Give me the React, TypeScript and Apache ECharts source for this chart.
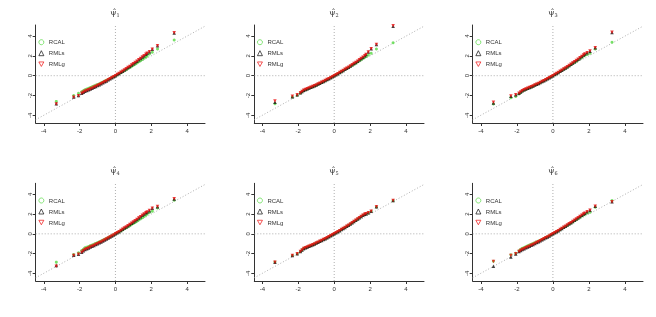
import React, { useEffect, useRef } from "react";
import * as echarts from "echarts";

// shared abscissa (sorted reference quantiles)
const xs = [-3.30, -2.33, -2.06, -1.88, -1.79,
  -1.70, -1.60, -1.50, -1.40, -1.30, -1.20, -1.10, -1.00, -0.90, -0.80, -0.70, -0.60, -0.50, -0.40, -0.30, -0.20, -0.10,
  0.00, 0.10, 0.20, 0.30, 0.40, 0.50, 0.60, 0.70, 0.80, 0.90, 1.00, 1.10, 1.20, 1.30, 1.40, 1.50, 1.60,
  1.70, 1.77, 1.90, 2.06, 2.35, 3.28];

// panel 1
const rcal1 = [-2.60, -2.00, -1.78, -1.62, -1.52,
  -1.42, -1.35, -1.28, -1.20, -1.13, -1.05, -0.97, -0.89, -0.81, -0.73, -0.64, -0.55, -0.47, -0.38, -0.28, -0.19, -0.10,
  0.00, 0.10, 0.20, 0.30, 0.40, 0.51, 0.61, 0.72, 0.83, 0.94, 1.05, 1.16, 1.28, 1.40, 1.52, 1.64, 1.76,
  1.88, 1.99, 2.19, 2.36, 2.69, 3.60];
const rmls1 = [-2.84, -2.16, -2.01, -1.78, -1.68,
  -1.58, -1.50, -1.43, -1.34, -1.26, -1.18, -1.09, -1.00, -0.91, -0.82, -0.72, -0.62, -0.53, -0.42, -0.32, -0.22, -0.11,
  0.00, 0.11, 0.22, 0.34, 0.46, 0.58, 0.70, 0.82, 0.94, 1.07, 1.20, 1.33, 1.46, 1.60, 1.74, 1.88, 2.02,
  2.16, 2.26, 2.42, 2.66, 3.02, 4.30];
const rmlg1 = [-2.87, -2.17, -2.02, -1.78, -1.68,
  -1.58, -1.50, -1.43, -1.34, -1.26, -1.18, -1.09, -1.00, -0.91, -0.82, -0.72, -0.62, -0.53, -0.42, -0.32, -0.22, -0.11,
  0.00, 0.11, 0.22, 0.34, 0.46, 0.58, 0.70, 0.82, 0.94, 1.07, 1.20, 1.33, 1.46, 1.60, 1.74, 1.88, 2.02,
  2.16, 2.26, 2.42, 2.66, 3.03, 4.34];

// panel 2
const rcal2 = [-2.83, -2.15, -1.97, -1.75, -1.62,
  -1.50, -1.42, -1.35, -1.27, -1.19, -1.11, -1.03, -0.95, -0.86, -0.78, -0.69, -0.60, -0.50, -0.40, -0.31, -0.21, -0.11,
  0.00, 0.10, 0.20, 0.30, 0.41, 0.51, 0.62, 0.72, 0.83, 0.94, 1.05, 1.16, 1.27, 1.38, 1.50, 1.61, 1.73,
  1.86, 1.95, 2.08, 2.26, 2.69, 3.33];
const rmls2 = [-2.68, -2.12, -1.92, -1.72, -1.60,
  -1.48, -1.40, -1.33, -1.25, -1.17, -1.09, -1.01, -0.93, -0.84, -0.76, -0.67, -0.58, -0.49, -0.39, -0.30, -0.20, -0.10,
  0.00, 0.10, 0.20, 0.31, 0.42, 0.53, 0.64, 0.75, 0.86, 0.98, 1.10, 1.22, 1.34, 1.47, 1.60, 1.73, 1.86,
  2.02, 2.15, 2.38, 2.71, 3.14, 5.00];
const rmlg2 = [-2.56, -2.09, -1.92, -1.72, -1.60,
  -1.48, -1.40, -1.33, -1.25, -1.17, -1.09, -1.01, -0.93, -0.84, -0.76, -0.67, -0.58, -0.49, -0.39, -0.30, -0.20, -0.10,
  0.00, 0.10, 0.20, 0.31, 0.42, 0.53, 0.64, 0.75, 0.86, 0.98, 1.10, 1.22, 1.34, 1.47, 1.60, 1.73, 1.86,
  2.02, 2.15, 2.39, 2.73, 3.16, 5.05];

// panel 3
const rcal3 = [-2.86, -2.22, -2.09, -1.84, -1.70,
  -1.55, -1.46, -1.38, -1.29, -1.21, -1.13, -1.05, -0.96, -0.87, -0.79, -0.70, -0.60, -0.50, -0.40, -0.31, -0.21, -0.10,
  0.00, 0.10, 0.20, 0.31, 0.42, 0.53, 0.64, 0.75, 0.86, 0.98, 1.10, 1.22, 1.34, 1.46, 1.59, 1.72, 1.85,
  1.98, 2.06, 2.15, 2.26, 2.69, 3.37];
const rmls3 = [-2.75, -2.07, -1.93, -1.78, -1.66,
  -1.52, -1.43, -1.35, -1.27, -1.19, -1.12, -1.03, -0.95, -0.86, -0.78, -0.69, -0.59, -0.50, -0.40, -0.31, -0.21, -0.10,
  0.00, 0.11, 0.21, 0.32, 0.44, 0.55, 0.67, 0.78, 0.90, 1.03, 1.15, 1.28, 1.40, 1.53, 1.67, 1.80, 1.94,
  2.08, 2.19, 2.31, 2.48, 2.82, 4.35];
const rmlg3 = [-2.69, -2.05, -1.92, -1.78, -1.66,
  -1.52, -1.43, -1.35, -1.27, -1.19, -1.12, -1.03, -0.95, -0.86, -0.78, -0.69, -0.59, -0.50, -0.40, -0.31, -0.21, -0.10,
  0.00, 0.11, 0.21, 0.32, 0.44, 0.55, 0.67, 0.78, 0.90, 1.03, 1.15, 1.28, 1.40, 1.53, 1.67, 1.80, 1.94,
  2.08, 2.19, 2.32, 2.49, 2.83, 4.38];

// panel 4
const rcal4 = [-2.87, -2.10, -1.92, -1.70, -1.56,
  -1.42, -1.35, -1.28, -1.20, -1.13, -1.05, -0.97, -0.89, -0.81, -0.73, -0.64, -0.55, -0.47, -0.38, -0.28, -0.19, -0.10,
  0.00, 0.10, 0.20, 0.30, 0.40, 0.51, 0.61, 0.72, 0.83, 0.94, 1.05, 1.16, 1.28, 1.40, 1.52, 1.64, 1.76,
  1.90, 2.02, 2.16, 2.30, 2.62, 3.41];
const rmls4 = [-3.22, -2.18, -2.07, -1.86, -1.72,
  -1.58, -1.50, -1.43, -1.34, -1.26, -1.18, -1.09, -1.00, -0.91, -0.82, -0.72, -0.62, -0.53, -0.42, -0.32, -0.22, -0.11,
  0.00, 0.11, 0.22, 0.34, 0.46, 0.58, 0.70, 0.82, 0.94, 1.07, 1.20, 1.33, 1.46, 1.60, 1.74, 1.88, 2.02,
  2.14, 2.22, 2.35, 2.58, 2.75, 3.53];
const rmlg4 = [-3.28, -2.20, -2.08, -1.86, -1.72,
  -1.58, -1.50, -1.43, -1.34, -1.26, -1.18, -1.09, -1.00, -0.91, -0.82, -0.72, -0.62, -0.53, -0.42, -0.32, -0.22, -0.11,
  0.00, 0.11, 0.22, 0.34, 0.46, 0.58, 0.70, 0.82, 0.94, 1.07, 1.20, 1.33, 1.46, 1.60, 1.74, 1.88, 2.02,
  2.14, 2.22, 2.36, 2.60, 2.76, 3.55];

// panel 5
const rcal5 = [-2.85, -2.19, -2.02, -1.78, -1.63,
  -1.47, -1.40, -1.33, -1.25, -1.18, -1.10, -1.02, -0.94, -0.85, -0.76, -0.68, -0.58, -0.49, -0.40, -0.30, -0.20, -0.10,
  0.00, 0.10, 0.21, 0.32, 0.43, 0.54, 0.65, 0.77, 0.88, 1.00, 1.12, 1.24, 1.36, 1.49, 1.62, 1.75, 1.88,
  1.97, 2.02, 2.12, 2.29, 2.72, 3.36];
const rmls5 = [-2.87, -2.20, -2.03, -1.79, -1.64,
  -1.48, -1.41, -1.33, -1.26, -1.18, -1.10, -1.02, -0.94, -0.85, -0.76, -0.68, -0.58, -0.49, -0.40, -0.30, -0.20, -0.10,
  0.00, 0.10, 0.21, 0.32, 0.43, 0.54, 0.65, 0.77, 0.88, 1.00, 1.12, 1.25, 1.37, 1.50, 1.63, 1.76, 1.89,
  1.98, 2.03, 2.13, 2.30, 2.74, 3.38];
const rmlg5 = [-2.87, -2.20, -2.03, -1.79, -1.64,
  -1.48, -1.41, -1.33, -1.26, -1.18, -1.10, -1.02, -0.94, -0.85, -0.76, -0.68, -0.58, -0.49, -0.40, -0.30, -0.20, -0.10,
  0.00, 0.10, 0.21, 0.32, 0.43, 0.54, 0.65, 0.77, 0.88, 1.00, 1.12, 1.25, 1.37, 1.50, 1.63, 1.76, 1.89,
  1.98, 2.03, 2.13, 2.30, 2.74, 3.38];

// panel 6
const rcal6 = [-2.78, -2.13, -1.98, -1.72, -1.58,
  -1.46, -1.38, -1.30, -1.22, -1.14, -1.06, -0.98, -0.90, -0.82, -0.74, -0.65, -0.57, -0.48, -0.38, -0.29, -0.19, -0.09,
  0.01, 0.11, 0.21, 0.31, 0.42, 0.53, 0.64, 0.75, 0.86, 0.97, 1.09, 1.20, 1.32, 1.44, 1.56, 1.68, 1.80,
  1.92, 1.99, 2.10, 2.20, 2.70, 3.38];
const rmls6 = [-3.28, -2.36, -2.05, -1.80, -1.68,
  -1.58, -1.50, -1.42, -1.33, -1.25, -1.16, -1.07, -0.98, -0.89, -0.80, -0.70, -0.61, -0.51, -0.41, -0.31, -0.21, -0.10,
  0.00, 0.11, 0.21, 0.32, 0.43, 0.55, 0.66, 0.78, 0.89, 1.01, 1.13, 1.25, 1.37, 1.50, 1.62, 1.75, 1.88,
  2.01, 2.08, 2.23, 2.40, 2.80, 3.24];
const rmlg6 = [-2.80, -2.20, -2.03, -1.79, -1.68,
  -1.58, -1.50, -1.42, -1.33, -1.25, -1.16, -1.07, -0.98, -0.89, -0.80, -0.70, -0.61, -0.51, -0.41, -0.31, -0.21, -0.10,
  0.00, 0.11, 0.21, 0.32, 0.43, 0.55, 0.66, 0.78, 0.89, 1.01, 1.13, 1.25, 1.37, 1.50, 1.62, 1.75, 1.88,
  2.01, 2.08, 2.23, 2.40, 2.80, 3.24];

const panelSubs = ["1", "2", "3", "4", "5", "6"];
const seriesNames = ["RCAL", "RMLs", "RMLg"];
const xTicks = [-4, -2, 0, 2, 4];
const yTicks = [-4, -2, 0, 2, 4];
const diagEnds = [-5.05, 5.0];

const panels = [
  [rcal1, rmls1, rmlg1],
  [rcal2, rmls2, rmlg2],
  [rcal3, rmls3, rmlg3],
  [rcal4, rmls4, rmlg4],
  [rcal5, rmls5, rmlg5],
  [rcal6, rmls6, rmlg6],
];

const GREEN = "#55d942";
const BLACK = "#111111";
const RED = "#ee1111";
const REF_GRAY = "#9a9a9a";
const INV_TRI = "path://M0,0L10,0L5,9Z";
const COLORS = [GREEN, BLACK, RED];
const SYMBOLS = ["circle", "triangle", INV_TRI];

const COLS = [
  { left: 35.7, width: 169.3 },
  { left: 254.3, width: 169.7 },
  { left: 472.7, width: 170.3 },
];
const ROWS = [
  { top: 25, height: 98 },
  { top: 183.3, height: 97.7 },
];
const XMIN = -4.45, XMAX = 5.0, YMIN = -4.78, YMAX = 5.12;
const FONT = "Liberation Sans, Arial, Helvetica, sans-serif";
const AXIS_COLOR = "#333333";
const TEXT_COLOR = "#333333";

export default function App() {
  const ref = useRef<HTMLDivElement>(null);
  useEffect(() => {
    if (!ref.current) return;
    const chart = echarts.init(ref.current, undefined, { renderer: "svg" });
    const grids: any[] = [];
    const xAxes: any[] = [];
    const yAxes: any[] = [];
    const series: any[] = [];
    const legends: any[] = [];
    const graphics: any[] = [];
    panels.forEach((p, i) => {
      const c = COLS[i % 3];
      const r = ROWS[Math.floor(i / 3)];
      grids.push({
        left: c.left, top: r.top, width: c.width, height: r.height,
        containLabel: false, outerBoundsMode: "none",
      });
      xAxes.push({
        type: "value", gridIndex: i, min: XMIN, max: XMAX,
        splitLine: { show: false },
        axisPointer: { show: false },
        axisLine: { show: true, onZero: false, lineStyle: { color: AXIS_COLOR, width: 1 } },
        axisTick: { show: true, length: 3, customValues: xTicks, lineStyle: { color: AXIS_COLOR } },
        axisLabel: { customValues: xTicks, fontSize: 6, color: TEXT_COLOR, margin: 5, fontFamily: FONT,
          formatter: (v: number) => String(v) },
      });
      yAxes.push({
        type: "value", gridIndex: i, min: YMIN, max: YMAX,
        splitLine: { show: false },
        axisPointer: { show: false },
        axisLine: { show: true, onZero: false, lineStyle: { color: AXIS_COLOR, width: 1 } },
        axisTick: { show: true, length: 3, customValues: yTicks, lineStyle: { color: AXIS_COLOR } },
        axisLabel: { customValues: yTicks, fontSize: 6, color: TEXT_COLOR, margin: 3, rotate: 90, fontFamily: FONT,
          formatter: (v: number) => String(v) },
      });
      const refStyle = { color: REF_GRAY, width: 0.8, type: [1, 2] };
      const refLines = [
        { data: [[diagEnds[0], diagEnds[0]], [diagEnds[1], diagEnds[1]]], clip: false },
        { data: [[0, YMIN], [0, YMAX]], clip: true },
        { data: [[XMIN, 0], [XMAX, 0]], clip: true },
      ];
      refLines.forEach((rl) => {
        series.push({
          type: "line", xAxisIndex: i, yAxisIndex: i, silent: true, clip: rl.clip, z: 1,
          symbol: "none", showSymbol: false, lineStyle: refStyle, itemStyle: { color: REF_GRAY },
          label: { show: false }, emphasis: { disabled: true },
          data: rl.data,
        });
      });
      p.forEach((ys, k) => {
        series.push({
          type: "scatter", name: seriesNames[k], xAxisIndex: i, yAxisIndex: i, z: 2 + k,
          symbol: SYMBOLS[k], symbolSize: k === 0 ? 3 : 3.5,
          itemStyle: { color: COLORS[k] },
          data: xs.map((x, j) => [x, ys[j]]),
        });
      });
      legends.push({
        orient: "vertical", left: c.left + 2.7, top: r.top + 13.2, padding: 0,
        itemWidth: 5, itemHeight: 5, itemGap: 3, selectedMode: false,
        textStyle: { fontSize: 6, color: TEXT_COLOR, fontFamily: FONT, lineHeight: 8 },
        data: seriesNames.map((n, k) => ({
          name: n, icon: SYMBOLS[k],
          itemStyle: { color: "transparent", borderColor: COLORS[k], borderWidth: 0.9 },
        })),
      });
      const zeroX = Math.round(c.left + ((0 - XMIN) / (XMAX - XMIN)) * c.width);
      graphics.push({
        type: "text", x: zeroX, y: r.top - 18,
        style: {
          text: "{m|ψ̂}{s|" + panelSubs[i] + "}",
          fill: TEXT_COLOR,
          align: "center", verticalAlign: "top",
          rich: {
            m: { fontSize: 8, fontFamily: "DejaVu Serif", fill: TEXT_COLOR },
            s: { fontSize: 5, fontFamily: "DejaVu Serif", fill: TEXT_COLOR, padding: [5, 0, 0, 0] },
          },
        },
      });
    });
    chart.setOption({
      animation: false,
      backgroundColor: "#ffffff",
      grid: grids,
      xAxis: xAxes,
      yAxis: yAxes,
      legend: legends,
      series,
      graphic: graphics,
    });
    return () => chart.dispose();
  }, []);
  return (
    <div
      ref={ref}
      style={{ position: "absolute", left: 0, top: 0, width: 656, height: 317, willChange: "transform" }}
    />
  );
}
